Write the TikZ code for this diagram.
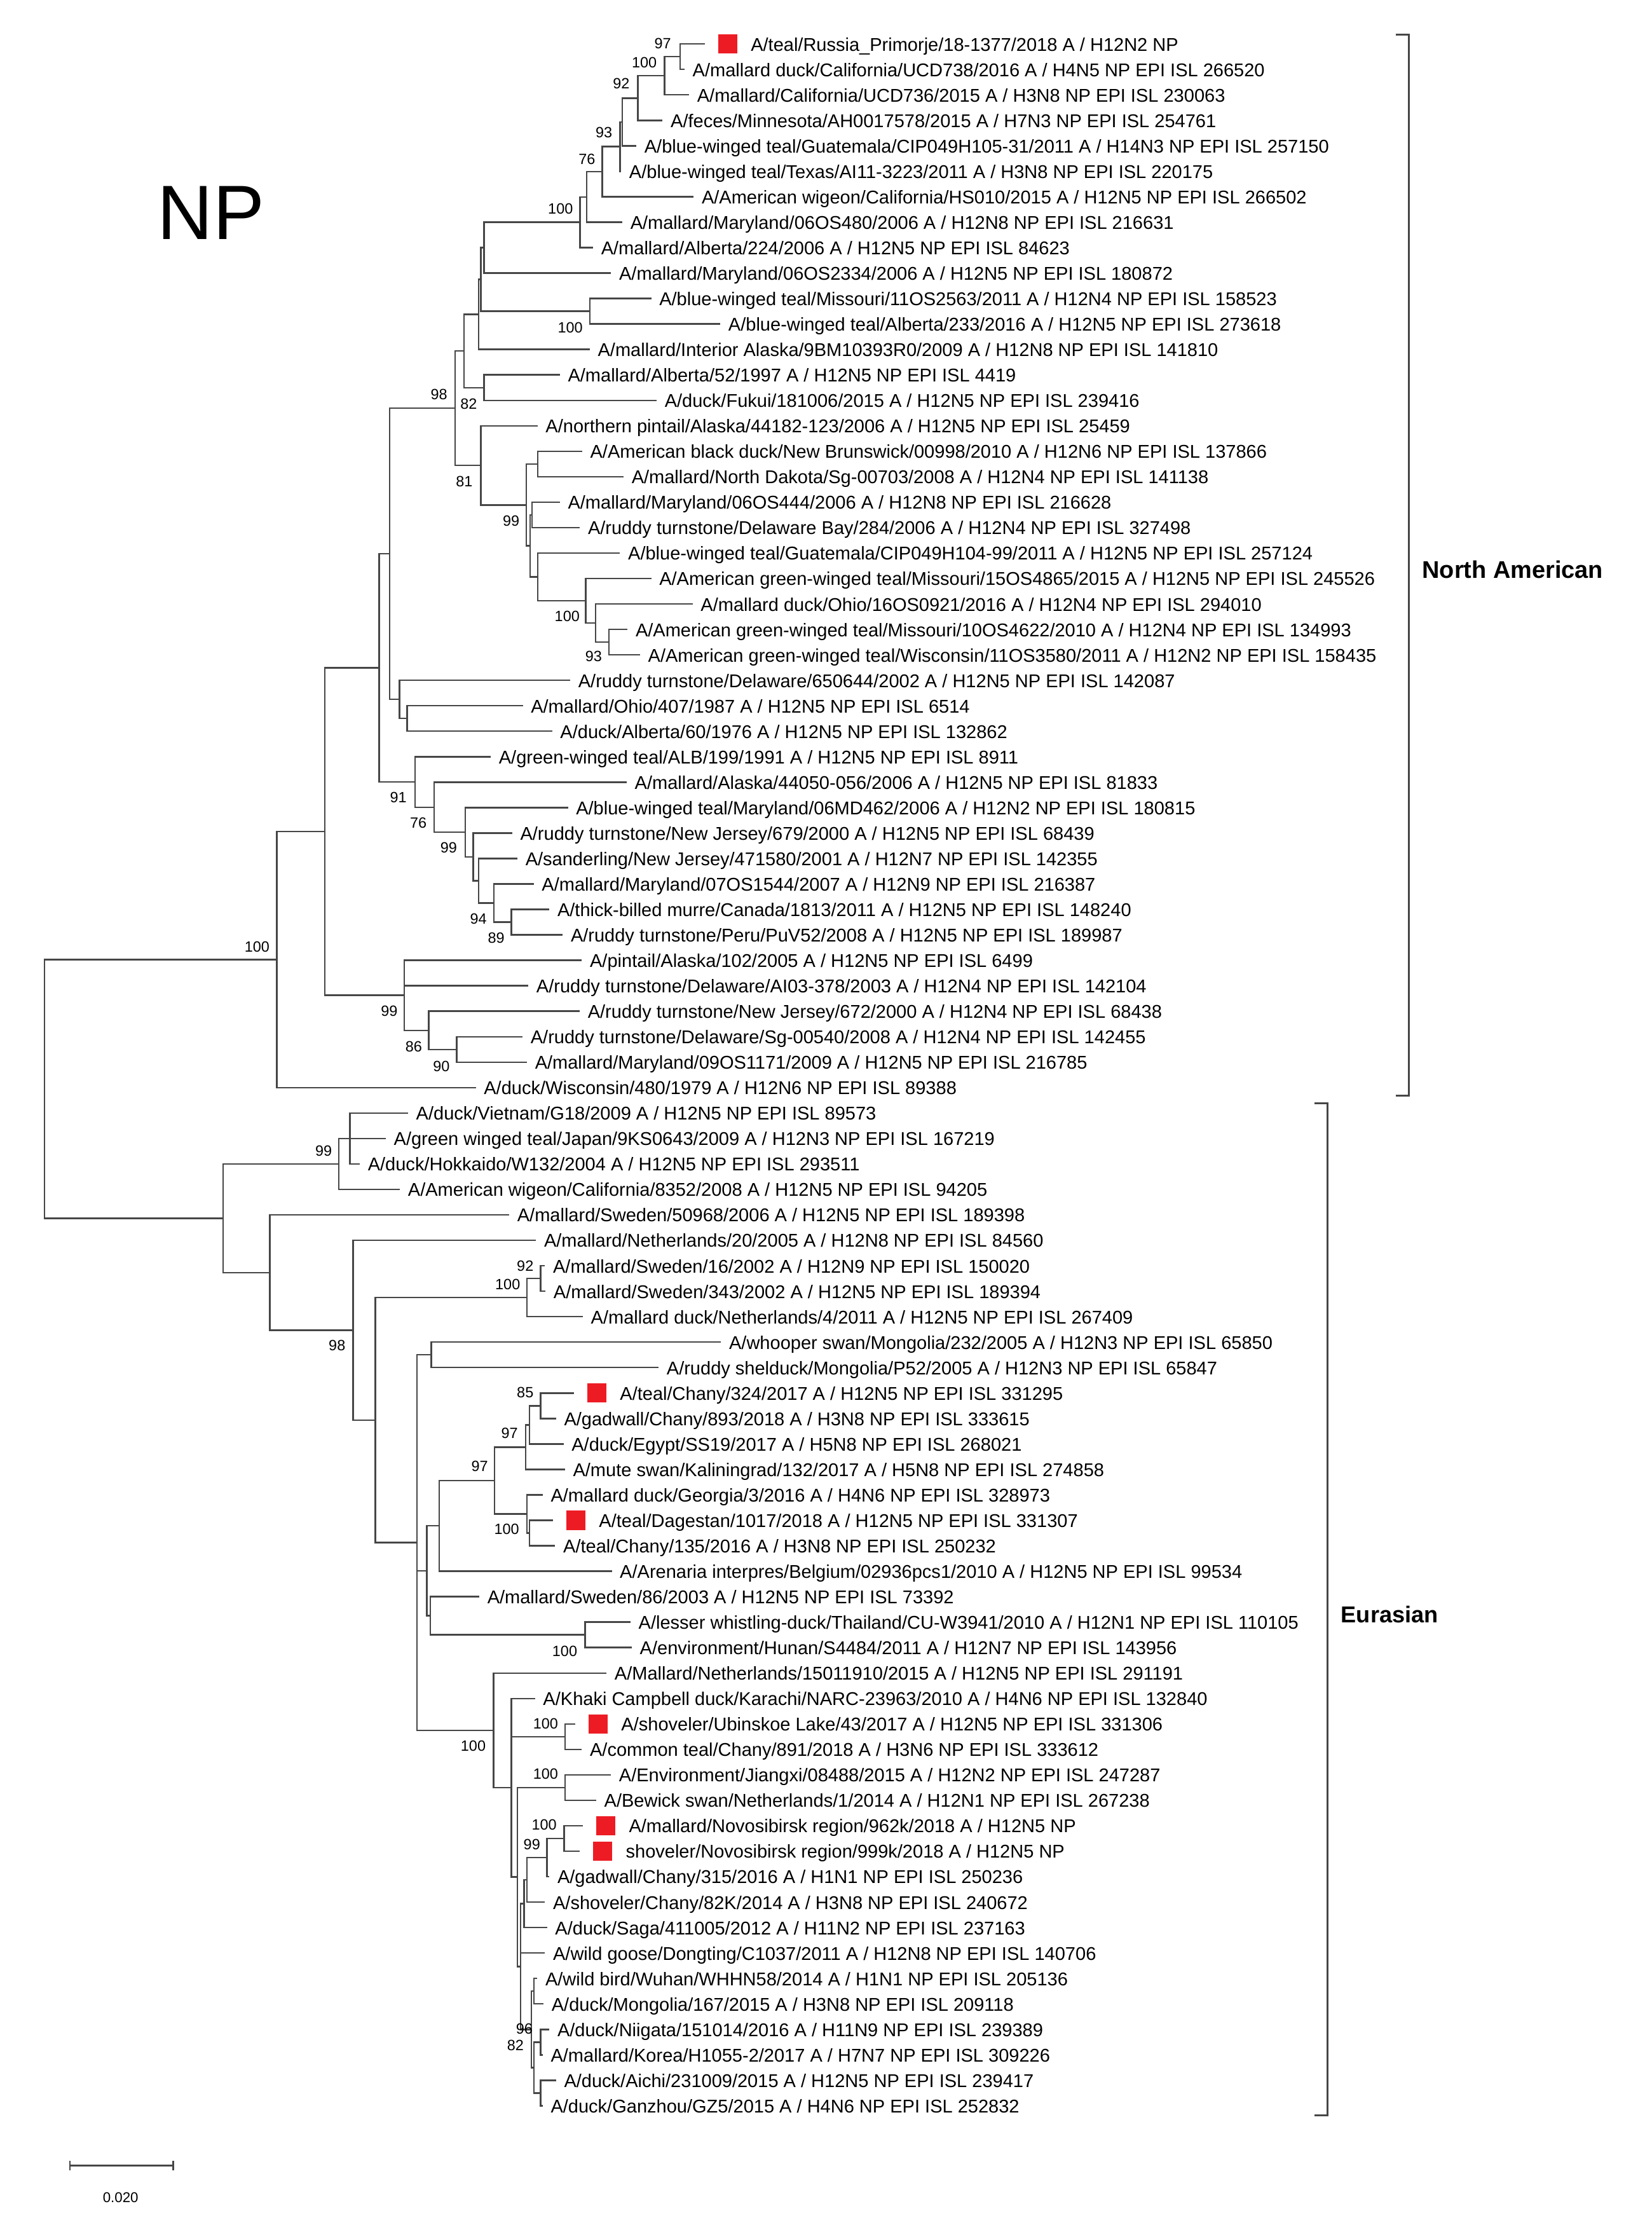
\documentclass[tikz,border=0pt]{standalone}
\usepackage{fontspec}
\setmainfont{Liberation Sans}
\usetikzlibrary{calc}
\definecolor{sqred}{RGB}{237,28,36}
\definecolor{brc}{RGB}{70,70,70}
\newcommand\tleaf[4]{\coordinate (#1) at (#3,{13.0625+17.9375*#2});\node[lf] (t#1) at ($(#1)+(5.5,4.9)$) {#4};}
\newcommand\tred[4]{\coordinate (#1) at (#3,{13.0625+17.9375*#2});\node[sq] (s#1) at ($(#1)+(16.1,0)$) {};\node[lf] (t#1) at ($(#1)+(32.3,4.9)$) {#4};}
\newcommand\tinode[4]{\path let \p1=(#3), \p2=(#4) in coordinate (#1) at (#2pt,{0.5*(\y1+\y2)});}
\newcommand\tclade[3]{\draw[br] (#2) -| (#1) |- (#3);}
\newcommand\tmid[2]{\draw[br] (#2 -| #1) -- (#2);}
\newcommand\tboot[4]{\node[bsl] (b#1) at (#2,#3) {#4};}
\begin{document}
\begin{tikzpicture}[x=1pt,y=-1pt,
 br/.style={draw=brc,line width=1.1pt,line join=miter},
 lf/.style={anchor=base west,inner sep=0pt,font=\fontsize{13}{14}\selectfont},
 bsl/.style={anchor=east,inner sep=0pt,font=\fontsize{10.5}{12}\selectfont},
 sq/.style={fill=sqred,draw=none,minimum width=13.4pt,minimum height=13.6pt,inner sep=0pt},
 grp/.style={draw=brc,line width=1.3pt,line join=miter}]
\fill[white] (0,0) rectangle (1164,1568);
\useasboundingbox (0,0) rectangle (1164,1568);
% ---------------- leaves: North American
\tred{l1}{1}{496.7}{A/teal/Russia\_Primorje/18-1377/2018 A / H12N2 NP}
\tleaf{l2}{2}{482.5}{A/mallard duck/California/UCD738/2016 A / H4N5 NP EPI ISL 266520}
\tleaf{l3}{3}{485.7}{A/mallard/California/UCD736/2015 A / H3N8 NP EPI ISL 230063}
\tleaf{l4}{4}{467.0}{A/feces/Minnesota/AH0017578/2015 A / H7N3 NP EPI ISL 254761}
\tleaf{l5}{5}{448.5}{A/blue-winged teal/Guatemala/CIP049H105-31/2011 A / H14N3 NP EPI ISL 257150}
\tleaf{l6}{6}{437.8}{A/blue-winged teal/Texas/AI11-3223/2011 A / H3N8 NP EPI ISL 220175}
\tleaf{l7}{7}{488.9}{A/American wigeon/California/HS010/2015 A / H12N5 NP EPI ISL 266502}
\tleaf{l8}{8}{438.6}{A/mallard/Maryland/06OS480/2006 A / H12N8 NP EPI ISL 216631}
\tleaf{l9}{9}{418.0}{A/mallard/Alberta/224/2006 A / H12N5 NP EPI ISL 84623}
\tleaf{l10}{10}{430.7}{A/mallard/Maryland/06OS2334/2006 A / H12N5 NP EPI ISL 180872}
\tleaf{l11}{11}{459.0}{A/blue-winged teal/Missouri/11OS2563/2011 A / H12N4 NP EPI ISL 158523}
\tleaf{l12}{12}{507.7}{A/blue-winged teal/Alberta/233/2016 A / H12N5 NP EPI ISL 273618}
\tleaf{l13}{13}{415.7}{A/mallard/Interior Alaska/9BM10393R0/2009 A / H12N8 NP EPI ISL 141810}
\tleaf{l14}{14}{394.6}{A/mallard/Alberta/52/1997 A / H12N5 NP EPI ISL 4419}
\tleaf{l15}{15}{462.8}{A/duck/Fukui/181006/2015 A / H12N5 NP EPI ISL 239416}
\tleaf{l16}{16}{378.9}{A/northern pintail/Alaska/44182-123/2006 A / H12N5 NP EPI ISL 25459}
\tleaf{l17}{17}{410.3}{A/American black duck/New Brunswick/00998/2010 A / H12N6 NP EPI ISL 137866}
\tleaf{l18}{18}{439.5}{A/mallard/North Dakota/Sg-00703/2008 A / H12N4 NP EPI ISL 141138}
\tleaf{l19}{19}{394.6}{A/mallard/Maryland/06OS444/2006 A / H12N8 NP EPI ISL 216628}
\tleaf{l20}{20}{408.7}{A/ruddy turnstone/Delaware Bay/284/2006 A / H12N4 NP EPI ISL 327498}
\tleaf{l21}{21}{437.0}{A/blue-winged teal/Guatemala/CIP049H104-99/2011 A / H12N5 NP EPI ISL 257124}
\tleaf{l22}{22}{459.0}{A/American green-winged teal/Missouri/15OS4865/2015 A / H12N5 NP EPI ISL 245526}
\tleaf{l23}{23}{488.2}{A/mallard duck/Ohio/16OS0921/2016 A / H12N4 NP EPI ISL 294010}
\tleaf{l24}{24}{442.3}{A/American green-winged teal/Missouri/10OS4622/2010 A / H12N4 NP EPI ISL 134993}
\tleaf{l25}{25}{451.1}{A/American green-winged teal/Wisconsin/11OS3580/2011 A / H12N2 NP EPI ISL 158435}
\tleaf{l26}{26}{401.9}{A/ruddy turnstone/Delaware/650644/2002 A / H12N5 NP EPI ISL 142087}
\tleaf{l27}{27}{368.5}{A/mallard/Ohio/407/1987 A / H12N5 NP EPI ISL 6514}
\tleaf{l28}{28}{389.2}{A/duck/Alberta/60/1976 A / H12N5 NP EPI ISL 132862}
\tleaf{l29}{29}{345.9}{A/green-winged teal/ALB/199/1991 A / H12N5 NP EPI ISL 8911}
\tleaf{l30}{30}{441.7}{A/mallard/Alaska/44050-056/2006 A / H12N5 NP EPI ISL 81833}
\tleaf{l31}{31}{400.3}{A/blue-winged teal/Maryland/06MD462/2006 A / H12N2 NP EPI ISL 180815}
\tleaf{l32}{32}{361.0}{A/ruddy turnstone/New Jersey/679/2000 A / H12N5 NP EPI ISL 68439}
\tleaf{l33}{33}{364.7}{A/sanderling/New Jersey/471580/2001 A / H12N7 NP EPI ISL 142355}
\tleaf{l34}{34}{376.2}{A/mallard/Maryland/07OS1544/2007 A / H12N9 NP EPI ISL 216387}
\tleaf{l35}{35}{387.2}{A/thick-billed murre/Canada/1813/2011 A / H12N5 NP EPI ISL 148240}
\tleaf{l36}{36}{396.6}{A/ruddy turnstone/Peru/PuV52/2008 A / H12N5 NP EPI ISL 189987}
\tleaf{l37}{37}{410.1}{A/pintail/Alaska/102/2005 A / H12N5 NP EPI ISL 6499}
\tleaf{l38}{38}{372.4}{A/ruddy turnstone/Delaware/AI03-378/2003 A / H12N4 NP EPI ISL 142104}
\tleaf{l39}{39}{408.6}{A/ruddy turnstone/New Jersey/672/2000 A / H12N4 NP EPI ISL 68438}
\tleaf{l40}{40}{368.3}{A/ruddy turnstone/Delaware/Sg-00540/2008 A / H12N4 NP EPI ISL 142455}
\tleaf{l41}{41}{371.4}{A/mallard/Maryland/09OS1171/2009 A / H12N5 NP EPI ISL 216785}
\tleaf{l42}{42}{335.4}{A/duck/Wisconsin/480/1979 A / H12N6 NP EPI ISL 89388}
% ---------------- leaves: Eurasian
\tleaf{l43}{43}{287.6}{A/duck/Vietnam/G18/2009 A / H12N5 NP EPI ISL 89573}
\tleaf{l44}{44}{271.9}{A/green winged teal/Japan/9KS0643/2009 A / H12N3 NP EPI ISL 167219}
\tleaf{l45}{45}{253.6}{A/duck/Hokkaido/W132/2004 A / H12N5 NP EPI ISL 293511}
\tleaf{l46}{46}{281.9}{A/American wigeon/California/8352/2008 A / H12N5 NP EPI ISL 94205}
\tleaf{l47}{47}{358.9}{A/mallard/Sweden/50968/2006 A / H12N5 NP EPI ISL 189398}
\tleaf{l48}{48}{377.8}{A/mallard/Netherlands/20/2005 A / H12N8 NP EPI ISL 84560}
\tleaf{l49}{49}{384.1}{A/mallard/Sweden/16/2002 A / H12N9 NP EPI ISL 150020}
\tleaf{l50}{50}{384.5}{A/mallard/Sweden/343/2002 A / H12N5 NP EPI ISL 189394}
\tleaf{l51}{51}{410.8}{A/mallard duck/Netherlands/4/2011 A / H12N5 NP EPI ISL 267409}
\tleaf{l52}{52}{508.2}{A/whooper swan/Mongolia/232/2005 A / H12N3 NP EPI ISL 65850}
\tleaf{l53}{53}{464.2}{A/ruddy shelduck/Mongolia/P52/2005 A / H12N3 NP EPI ISL 65847}
\tred{l54}{54}{404.5}{A/teal/Chany/324/2017 A / H12N5 NP EPI ISL 331295}
\tleaf{l55}{55}{391.9}{A/gadwall/Chany/893/2018 A / H3N8 NP EPI ISL 333615}
\tleaf{l56}{56}{397.2}{A/duck/Egypt/SS19/2017 A / H5N8 NP EPI ISL 268021}
\tleaf{l57}{57}{398.2}{A/mute swan/Kaliningrad/132/2017 A / H5N8 NP EPI ISL 274858}
\tleaf{l58}{58}{382.5}{A/mallard duck/Georgia/3/2016 A / H4N6 NP EPI ISL 328973}
\tred{l59}{59}{389.7}{A/teal/Dagestan/1017/2018 A / H12N5 NP EPI ISL 331307}
\tleaf{l60}{60}{391.3}{A/teal/Chany/135/2016 A / H3N8 NP EPI ISL 250232}
\tleaf{l61}{61}{431.2}{A/Arenaria interpres/Belgium/02936pcs1/2010 A / H12N5 NP EPI ISL 99534}
\tleaf{l62}{62}{337.8}{A/mallard/Sweden/86/2003 A / H12N5 NP EPI ISL 73392}
\tleaf{l63}{63}{444.4}{A/lesser whistling-duck/Thailand/CU-W3941/2010 A / H12N1 NP EPI ISL 110105}
\tleaf{l64}{64}{445.3}{A/environment/Hunan/S4484/2011 A / H12N7 NP EPI ISL 143956}
\tleaf{l65}{65}{427.5}{A/Mallard/Netherlands/15011910/2015 A / H12N5 NP EPI ISL 291191}
\tleaf{l66}{66}{377.1}{A/Khaki Campbell duck/Karachi/NARC-23963/2010 A / H4N6 NP EPI ISL 132840}
\tred{l67}{67}{405.4}{A/shoveler/Ubinskoe Lake/43/2017 A / H12N5 NP EPI ISL 331306}
\tleaf{l68}{68}{410.1}{A/common teal/Chany/891/2018 A / H3N6 NP EPI ISL 333612}
\tleaf{l69}{69}{430.6}{A/Environment/Jiangxi/08488/2015 A / H12N2 NP EPI ISL 247287}
\tleaf{l70}{70}{420.2}{A/Bewick swan/Netherlands/1/2014 A / H12N1 NP EPI ISL 267238}
\tred{l71}{71}{410.8}{A/mallard/Novosibirsk region/962k/2018 A / H12N5 NP}
\tred{l72}{72}{408.6}{shoveler/Novosibirsk region/999k/2018 A / H12N5 NP}
\tleaf{l73}{73}{387.2}{A/gadwall/Chany/315/2016 A / H1N1 NP EPI ISL 250236}
\tleaf{l74}{74}{384.1}{A/shoveler/Chany/82K/2014 A / H3N8 NP EPI ISL 240672}
\tleaf{l75}{75}{385.6}{A/duck/Saga/411005/2012 A / H11N2 NP EPI ISL 237163}
\tleaf{l76}{76}{384.1}{A/wild goose/Dongting/C1037/2011 A / H12N8 NP EPI ISL 140706}
\tleaf{l77}{77}{378.7}{A/wild bird/Wuhan/WHHN58/2014 A / H1N1 NP EPI ISL 205136}
\tleaf{l78}{78}{383.1}{A/duck/Mongolia/167/2015 A / H3N8 NP EPI ISL 209118}
\tleaf{l79}{79}{387.2}{A/duck/Niigata/151014/2016 A / H11N9 NP EPI ISL 239389}
\tleaf{l80}{80}{382.5}{A/mallard/Korea/H1055-2/2017 A / H7N7 NP EPI ISL 309226}
\tleaf{l81}{81}{391.9}{A/duck/Aichi/231009/2015 A / H12N5 NP EPI ISL 239417}
\tleaf{l82}{82}{382.5}{A/duck/Ganzhou/GZ5/2015 A / H4N6 NP EPI ISL 252832}
% ---------------- internal nodes: North American
\tinode{T1}{479.4}{l1}{l2}
\tinode{T2}{468.4}{T1}{l3}
\tinode{T3}{449.6}{T2}{l4}
\tinode{T4}{438.6}{T3}{l5}
\tinode{T5}{437.0}{T4}{l6}
\tinode{R}{424.4}{T5}{l7}
\tinode{Q}{413.5}{R}{l8}
\tinode{O}{408.7}{Q}{l9}
\tinode{Ma}{341.2}{O}{l10}
\tinode{P}{415.8}{l11}{l12}
\tinode{Mb}{339.0}{Ma}{P}
\tinode{M}{337.4}{Mb}{l13}
\tinode{N}{341.2}{l14}{l15}
\tinode{K}{327.0}{M}{N}
\tinode{L3}{378.9}{l17}{l18}
\tinode{L6}{375.0}{l19}{l20}
\tinode{L9}{429.2}{l24}{l25}
\tinode{L8}{419.8}{l23}{L9}
\tinode{L7}{412.8}{l22}{L8}
\tinode{L5}{378.9}{l21}{L7}
\tinode{X}{373.6}{L6}{L5}
\tinode{L2}{371.0}{L3}{X}
\tinode{L}{339.0}{l16}{L2}
\tinode{J}{320.8}{K}{L}
\tinode{I}{287.0}{l27}{l28}
\tinode{H}{281.5}{l26}{I}
\tinode{F}{274.5}{J}{H}
\tinode{G7}{360.5}{l35}{l36}
\tinode{G6}{348.0}{l34}{G7}
\tinode{G5}{337.4}{l33}{G6}
\tinode{G4}{333.5}{l32}{G5}
\tinode{G3}{328.0}{l31}{G4}
\tinode{G2}{306.0}{l30}{G3}
\tinode{G}{292.6}{l29}{G2}
\tinode{E}{267.3}{F}{G}
\tinode{D}{321.8}{l40}{l41}
\tinode{C}{302.2}{l39}{D}
\tinode{B}{285.0}{l37}{C}
\tinode{A}{229.0}{E}{B}
\tinode{U}{195.0}{A}{l42}
% ---------------- internal nodes: Eurasian
\tinode{W2}{246.7}{l43}{l45}
\tinode{W}{238.9}{l44}{l46}
\tinode{Z2}{381.0}{l49}{l50}
\tinode{Z1}{371.5}{Z2}{l51}
\tinode{Y5}{303.9}{l52}{l53}
\tinode{Y14}{381.0}{l54}{l55}
\tinode{Y13}{373.1}{Y14}{l56}
\tinode{Y11}{370.6}{Y13}{l57}
\tinode{Y15}{373.1}{l59}{l60}
\tinode{Y12}{371.5}{l58}{Y15}
\tinode{Y10}{348.6}{Y11}{Y12}
\tinode{Y7}{309.6}{Y10}{l61}
\tinode{Y16}{412.4}{l63}{l64}
\tinode{Y8}{303.3}{l62}{Y16}
\tinode{Y6}{300.8}{Y7}{Y8}
\tinode{Y19}{398.2}{l67}{l68}
\tinode{Y20}{398.2}{l69}{l70}
\tinode{Y22}{397.6}{l71}{l72}
\tinode{Y21}{385.6}{Y22}{l73}
\tinode{Y23}{371.5}{Y21}{l74}
\tinode{Y24}{369.3}{Y23}{l75}
\tinode{Z77}{376.2}{l77}{l78}
\tinode{Z79}{381.0}{l79}{l80}
\tinode{Z81}{381.0}{l81}{l82}
\tinode{Z80}{376.2}{Z79}{Z81}
\tinode{Zb}{374.6}{Z77}{Z80}
\tinode{Y27}{366.8}{Y24}{Zb}
\tinode{Y18}{364.6}{Y20}{Y27}
\tinode{Y17}{360.5}{l66}{Y18}
\tinode{Y9}{347.9}{l65}{Y17}
\tinode{Y4}{293.9}{Y5}{Y9}
\tinode{Y3}{264.6}{Z1}{Y4}
\tinode{Y2}{248.9}{l48}{Y3}
\tinode{Y}{190.2}{l47}{Y2}
\tinode{V}{157.2}{W}{Y}
\tinode{root}{31.4}{U}{V}
% ---------------- branches
\tclade{T1}{l1}{l2}
\tclade{T2}{T1}{l3}
\tclade{T3}{T2}{l4}
\tclade{T4}{T3}{l5}
\tclade{T5}{T4}{l6}
\tclade{R}{T5}{l7}
\tclade{Q}{R}{l8}
\tclade{O}{Q}{l9}
\tclade{Ma}{O}{l10}
\tclade{P}{l11}{l12}
\tclade{Mb}{Ma}{P}
\tclade{M}{Mb}{l13}
\tclade{N}{l14}{l15}
\tclade{K}{M}{N}
\tclade{L3}{l17}{l18}
\tclade{L6}{l19}{l20}
\tclade{L9}{l24}{l25}
\tclade{L8}{l23}{L9}
\tclade{L7}{l22}{L8}
\tclade{L5}{l21}{L7}
\tclade{X}{L6}{L5}
\tclade{L2}{L3}{X}
\tclade{L}{l16}{L2}
\tclade{J}{K}{L}
\tclade{I}{l27}{l28}
\tclade{H}{l26}{I}
\tclade{F}{J}{H}
\tclade{G7}{l35}{l36}
\tclade{G6}{l34}{G7}
\tclade{G5}{l33}{G6}
\tclade{G4}{l32}{G5}
\tclade{G3}{l31}{G4}
\tclade{G2}{l30}{G3}
\tclade{G}{l29}{G2}
\tclade{E}{F}{G}
\tclade{D}{l40}{l41}
\tclade{C}{l39}{D}
\tclade{B}{l37}{C}
\tmid{B}{l38}
\tclade{A}{E}{B}
\tclade{U}{A}{l42}
\tclade{W2}{l43}{l45}
\tclade{W}{l44}{l46}
\tclade{Z2}{l49}{l50}
\tclade{Z1}{Z2}{l51}
\tclade{Y5}{l52}{l53}
\tclade{Y14}{l54}{l55}
\tclade{Y13}{Y14}{l56}
\tclade{Y11}{Y13}{l57}
\tclade{Y15}{l59}{l60}
\tclade{Y12}{l58}{Y15}
\tclade{Y10}{Y11}{Y12}
\tclade{Y7}{Y10}{l61}
\tclade{Y16}{l63}{l64}
\tclade{Y8}{l62}{Y16}
\tclade{Y6}{Y7}{Y8}
\tclade{Y19}{l67}{l68}
\tclade{Y20}{l69}{l70}
\tclade{Y22}{l71}{l72}
\tclade{Y21}{Y22}{l73}
\tclade{Y23}{Y21}{l74}
\tclade{Y24}{Y23}{l75}
\tclade{Z77}{l77}{l78}
\tclade{Z79}{l79}{l80}
\tclade{Z81}{l81}{l82}
\tclade{Z80}{Z79}{Z81}
\tclade{Zb}{Z77}{Z80}
\tclade{Y27}{Y24}{Zb}
\tmid{Y27}{l76}
\tclade{Y18}{Y20}{Y27}
\tclade{Y17}{l66}{Y18}
\tmid{Y17}{Y19}
\tclade{Y9}{l65}{Y17}
\tclade{Y4}{Y5}{Y9}
\tmid{Y4}{Y6}
\tclade{Y3}{Z1}{Y4}
\tclade{Y2}{l48}{Y3}
\tclade{Y}{l47}{Y2}
\tclade{V}{W}{Y}
\tclade{root}{U}{V}
% ---------------- bootstrap values
\tboot{T1}{473.1}{30.6}{97}
\tboot{T2}{463.1}{44.0}{100}
\tboot{T3}{443.9}{59.0}{92}
\tboot{T5}{431.7}{93.3}{93}
\tboot{R}{419.7}{112.0}{76}
\tboot{O}{404.0}{147.3}{100}
\tboot{P}{410.9}{230.7}{100}
\tboot{J}{315.4}{277.8}{98}
\tboot{N}{336.4}{284.5}{82}
\tboot{L}{333.3}{339.3}{81}
\tboot{L2}{366.3}{366.9}{99}
\tboot{L8}{408.7}{434.3}{100}
\tboot{L9}{424.4}{462.5}{93}
\tboot{G}{286.8}{561.8}{91}
\tboot{G2}{300.9}{579.7}{76}
\tboot{G3}{322.3}{597.3}{99}
\tboot{G6}{343.2}{647.4}{94}
\tboot{G7}{355.8}{661.1}{89}
\tboot{U}{190.1}{667.1}{100}
\tboot{B}{280.4}{712.6}{99}
\tboot{C}{297.6}{737.7}{86}
\tboot{D}{317.1}{751.4}{90}
\tboot{W}{234.1}{811.2}{99}
\tboot{Z2}{376.2}{892.0}{92}
\tboot{Z1}{366.8}{905.3}{100}
\tboot{Y2}{243.6}{948.3}{98}
\tboot{Y14}{376.2}{981.4}{85}
\tboot{Y11}{365.2}{1009.8}{97}
\tboot{Y10}{344.1}{1033.4}{97}
\tboot{Y12}{366.1}{1077.8}{100}
\tboot{Y16}{407.0}{1163.6}{100}
\tboot{Y19}{393.5}{1214.8}{100}
\tboot{Y9}{342.5}{1230.5}{100}
\tboot{Y20}{393.5}{1250.2}{100}
\tboot{Y22}{392.5}{1286.1}{100}
\tboot{Y21}{380.9}{1300.0}{99}
\tboot{Zb}{375.6}{1429.9}{96}
\tboot{Z80}{369.3}{1441.4}{82}
% ---------------- title, groups, scale
\node[anchor=base west,inner sep=0pt,font=\fontsize{54.3}{60}\selectfont] (title) at (110.8,168.8) {NP};
\coordinate (na1) at (984,24.4);
\coordinate (na2) at (993,24.4);
\coordinate (na3) at (993,772);
\coordinate (na4) at (984,772);
\draw[grp] (na1) -- (na2) -- (na3) -- (na4);
\node[anchor=west,inner sep=0pt,font=\bfseries\fontsize{17}{20}\selectfont] (naname) at (1002.2,401.5) {North American};
\coordinate (eu1) at (926.5,777.4);
\coordinate (eu2) at (935.7,777.4);
\coordinate (eu3) at (935.7,1490.5);
\coordinate (eu4) at (926.5,1490.5);
\draw[grp] (eu1) -- (eu2) -- (eu3) -- (eu4);
\node[anchor=west,inner sep=0pt,font=\bfseries\fontsize{16.2}{20}\selectfont] (euname) at (945,1137.5) {Eurasian};
\coordinate (sb0) at (49.3,1526);
\coordinate (sb1) at (122,1526);
\draw[br] (sb0) -- (sb1);
\draw[br] ($(sb0)+(0,-3.3)$) -- ($(sb0)+(0,3.3)$);
\draw[br] ($(sb1)+(0,-3.3)$) -- ($(sb1)+(0,3.3)$);
\node[inner sep=0pt,font=\fontsize{10}{12}\selectfont] (sblab) at (85,1548.5) {0.020};
\end{tikzpicture}
\end{document}
